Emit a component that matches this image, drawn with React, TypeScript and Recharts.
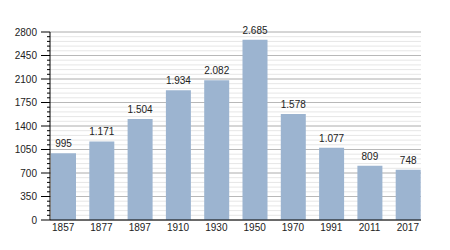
import { BarChart, Bar, XAxis, YAxis, CartesianGrid, LabelList } from "recharts";

const years = ["1857", "1877", "1897", "1910", "1930", "1950", "1970", "1991", "2011", "2017"];
const population = [995, 1171, 1504, 1934, 2082, 2685, 1578, 1077, 809, 748];
const majorTicks = [0, 350, 700, 1050, 1400, 1750, 2100, 2450, 2800];
const minorTicks = Array.from({ length: 41 }, (_, i) => i * 70);

const data = years.map((year, i) => ({ year, value: population[i] }));

const fmt = (v: number) => String(v).replace(/\B(?=(\d{3})+(?!\d))/g, ".");

const YTick = (props: any) => {
  const { x, y, payload } = props;
  const major = payload.value % 350 === 0;
  return (
    <g>
      <line x1={x - (major ? 9 : 3)} x2={x} y1={y} y2={y} stroke="#000" strokeWidth={1} />
      {major && (
        <text x={x - 13} y={y} dy="0.35em" textAnchor="end" fontSize={10} fill="#222">
          {payload.value}
        </text>
      )}
    </g>
  );
};

export default function App() {
  return (
    <div style={{ position: "absolute", left: 0, top: 0, fontFamily: "'Liberation Sans', Arial, sans-serif" }}>
      <BarChart width={450} height={250} data={data} margin={{ top: 32, right: 29, bottom: 0, left: 0 }}>
        <CartesianGrid vertical={false} horizontalValues={minorTicks} stroke="#e6e6e6" />
        <CartesianGrid vertical={false} horizontalValues={majorTicks} stroke="#b8b8b8" />
        <XAxis
          dataKey="year"
          height={30}
          tickLine={false}
          tickSize={0}
          tickMargin={4}
          padding={{ left: -6, right: -6 }}
          axisLine={{ stroke: "#000" }}
          tick={{ fontSize: 10, fill: "#222" }}
        />
        <YAxis
          width={50}
          domain={[0, 2800]}
          ticks={minorTicks}
          interval={0}
          tickLine={false}
          tickSize={0}
          tickMargin={0}
          axisLine={{ stroke: "#000" }}
          tick={<YTick />}
        />
        <Bar dataKey="value" fill="#9cb4d0" barSize={25} isAnimationActive={false}>
          <LabelList dataKey="value" position="top" offset={6} formatter={(v: any) => fmt(v)} fontSize={10} fill="#222" />
        </Bar>
      </BarChart>
    </div>
  );
}
